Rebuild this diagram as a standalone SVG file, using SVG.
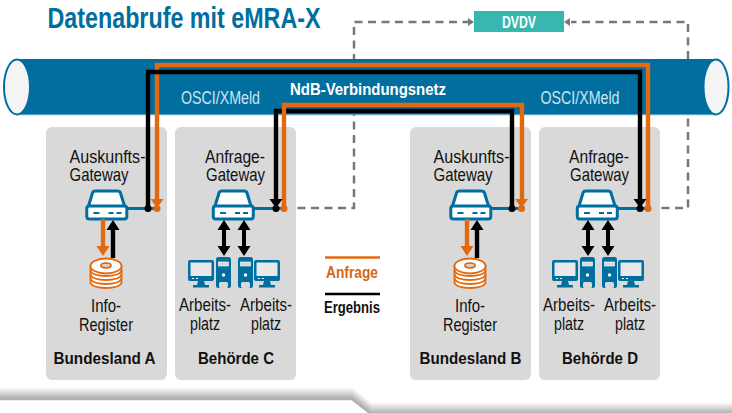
<svg xmlns="http://www.w3.org/2000/svg" width="732" height="413" viewBox="0 0 732 413">
<style>
text{font-family:"Liberation Sans",Arial,sans-serif;text-anchor:middle;fill:#111}
.lbl{font-size:18.5px}
.b{font-size:17px;font-weight:bold}
.box{fill:#d9d9d9}
.blue{fill:#006fa0}
.dash{fill:none;stroke:#777;stroke-width:2.5;stroke-dasharray:8 5.5}
.k{fill:none;stroke:#000;stroke-width:4.4}
.o{fill:none;stroke:#e2690f;stroke-width:4.4}
.thin{fill:none;stroke:#000;stroke-width:4}
.osci{font-size:18px;fill:#cfe3ee}
.f{fill:none;stroke-width:2.3}
</style>
<defs>
<g id="gw">
<path d="M3 16 L7 3 Q7.500 1 10 1 L32 1 Q34.500 1 35 3 L39 16" fill="#fff" stroke="#006fa0" stroke-width="3"/>
<rect x="1.300" y="16" width="40" height="13" rx="2.500" fill="#fff" stroke="#006fa0" stroke-width="3"/>
<path d="M8 23H14M23 23H28M31 23H36" stroke="#006fa0" stroke-width="2"/>
</g>
<g id="disks" fill="#fff" stroke="#e2690f" stroke-width="1.800">
<path d="M-15.500 8V24C-15.500 28 -8 30 0 30S15.500 28 15.500 24V8Z" fill="#fff"/>
<path d="M-15.500 12C-15.500 16 -8 18 0 18S15.500 16 15.500 12M-15.500 16C-15.500 20 -8 22 0 22S15.500 20 15.500 16M-15.500 20C-15.500 24 -8 26 0 26S15.500 24 15.500 20" fill="none"/>
<ellipse cx="0" cy="8" rx="15.500" ry="7.500"/>
<ellipse cx="0" cy="7.500" rx="5" ry="2.300" fill="#d9d9d9"/>
</g>
<g id="mon">
<rect x="0" y="0" width="26" height="21" rx="2" class="blue"/>
<rect x="2.500" y="2.500" width="21" height="13.500" fill="#e8e8e8"/>
<path d="M10 21H16L17 25H21V27.500H5V25H9Z" class="blue"/>
<path d="M4 18.500H6M8 18.500H10" stroke="#fff" stroke-width="1"/>
</g>
<g id="tower">
<rect x="0" y="0" width="15" height="31" rx="2.500" class="blue"/>
<rect x="2.500" y="5" width="10" height="4" fill="#d9d9d9" stroke="#fff" stroke-width=".6"/>
<circle cx="7.500" cy="18" r="1.700" fill="#fff"/>
<rect x="3" y="25" width="9" height="6" rx="1.500" fill="#d9d9d9"/>
</g>
<path id="ah" d="M-6.500 0H6.500L0 9Z"/>
</defs>

<g id="footer">
<path class="f" stroke="#f4f4f4" d="M0 389H352L371 404H732"/>
<path class="f" stroke="#e6e6e6" d="M0 391H352L371 406H732"/>
<path class="f" stroke="#d8d8d8" d="M0 393H352L371 408H732"/>
<path class="f" stroke="#cacaca" d="M0 395H352L371 410H732"/>
<path class="f" stroke="#bcbcbc" d="M0 397H352L371 412H732"/>
<path class="f" stroke="#b0b0b0" d="M0 399H352L371 414H732"/>
</g>

<text x="184" y="28" font-size="29" font-weight="bold" style="fill:#006fa0" textLength="273" lengthAdjust="spacingAndGlyphs">Datenabrufe mit eMRA-X</text>

<g id="dashed-back">
<path class="dash" d="M284 208H354V22H468"/>
<path class="dash" d="M648 208H688V22H571"/>
</g>

<g id="netz">
<rect x="17" y="59" width="699" height="56" class="blue"/>
<rect x="17" y="114" width="699" height="1.200" fill="#5ba3c4"/>
<ellipse cx="17" cy="87" rx="13" ry="27.500" fill="#f4f4f4" stroke="#006fa0" stroke-width="2"/>
<ellipse cx="716" cy="87" rx="12.500" ry="27.500" fill="#f4f4f4" stroke="#006fa0" stroke-width="2"/>
<text x="220.500" y="104" class="osci" textLength="79" lengthAdjust="spacingAndGlyphs">OSCI/XMeld</text>
<text x="580" y="104" class="osci" textLength="79" lengthAdjust="spacingAndGlyphs">OSCI/XMeld</text>
<text x="368" y="95" class="b" style="fill:#fff" textLength="156" lengthAdjust="spacingAndGlyphs">NdB-Verbindungsnetz</text>
</g>

<g id="dvdv">
<rect x="474" y="11" width="90" height="21" fill="#38b6b0"/>
<text x="519" y="27.500" font-size="17" font-weight="bold" style="fill:#fff" textLength="34" lengthAdjust="spacingAndGlyphs">DVDV</text>
</g>

<g id="bundesland-a">
<rect class="box" x="46" y="127" width="121" height="253" rx="6"/>
<text class="lbl" x="107.500" y="163" textLength="76" lengthAdjust="spacingAndGlyphs">Auskunfts-</text>
<text class="lbl" x="99" y="181" textLength="59" lengthAdjust="spacingAndGlyphs">Gateway</text>
<use href="#gw" x="85.500" y="190"/>
<use href="#disks" x="106" y="258"/>
<text class="lbl" x="106" y="312" textLength="30" lengthAdjust="spacingAndGlyphs">Info-</text>
<text class="lbl" x="106" y="331" textLength="54" lengthAdjust="spacingAndGlyphs">Register</text>
<text class="b" x="104.500" y="364" textLength="102" lengthAdjust="spacingAndGlyphs">Bundesland A</text>
</g>
<g id="behoerde-c">
<rect class="box" x="175" y="127" width="121" height="253" rx="6"/>
<text class="lbl" x="235" y="163" textLength="60" lengthAdjust="spacingAndGlyphs">Anfrage-</text>
<text class="lbl" x="235.500" y="181" textLength="59" lengthAdjust="spacingAndGlyphs">Gateway</text>
<use href="#gw" x="212" y="190"/>
<use href="#mon" x="188" y="260"/><use href="#tower" x="216" y="257"/>
<use href="#tower" x="238" y="257"/><use href="#mon" x="254" y="260"/>
<text class="lbl" x="205" y="311" textLength="52" lengthAdjust="spacingAndGlyphs">Arbeits-</text>
<text class="lbl" x="205" y="330" textLength="30" lengthAdjust="spacingAndGlyphs">platz</text>
<text class="lbl" x="266" y="311" textLength="52" lengthAdjust="spacingAndGlyphs">Arbeits-</text>
<text class="lbl" x="266" y="330" textLength="30" lengthAdjust="spacingAndGlyphs">platz</text>
<text class="b" x="236" y="364" textLength="76" lengthAdjust="spacingAndGlyphs">Behörde C</text>
</g>
<g id="bundesland-b">
<rect class="box" x="410" y="127" width="121" height="253" rx="6"/>
<text class="lbl" x="471.500" y="163" textLength="76" lengthAdjust="spacingAndGlyphs">Auskunfts-</text>
<text class="lbl" x="463" y="181" textLength="59" lengthAdjust="spacingAndGlyphs">Gateway</text>
<use href="#gw" x="449.500" y="190"/>
<use href="#disks" x="470" y="258"/>
<text class="lbl" x="470" y="312" textLength="30" lengthAdjust="spacingAndGlyphs">Info-</text>
<text class="lbl" x="470" y="331" textLength="54" lengthAdjust="spacingAndGlyphs">Register</text>
<text class="b" x="470.500" y="364" textLength="102" lengthAdjust="spacingAndGlyphs">Bundesland B</text>
</g>
<g id="behoerde-d">
<rect class="box" x="539" y="127" width="121" height="253" rx="6"/>
<text class="lbl" x="599" y="163" textLength="60" lengthAdjust="spacingAndGlyphs">Anfrage-</text>
<text class="lbl" x="599.500" y="181" textLength="59" lengthAdjust="spacingAndGlyphs">Gateway</text>
<use href="#gw" x="576" y="190"/>
<use href="#mon" x="552" y="260"/><use href="#tower" x="580" y="257"/>
<use href="#tower" x="602" y="257"/><use href="#mon" x="618" y="260"/>
<text class="lbl" x="569" y="311" textLength="52" lengthAdjust="spacingAndGlyphs">Arbeits-</text>
<text class="lbl" x="569" y="330" textLength="30" lengthAdjust="spacingAndGlyphs">platz</text>
<text class="lbl" x="630" y="311" textLength="52" lengthAdjust="spacingAndGlyphs">Arbeits-</text>
<text class="lbl" x="630" y="330" textLength="30" lengthAdjust="spacingAndGlyphs">platz</text>
<text class="b" x="600" y="364" textLength="76" lengthAdjust="spacingAndGlyphs">Behörde D</text>
</g>
<g id="legend">
<path d="M325 257.500H380" stroke="#e2690f" stroke-width="2.500"/>
<text x="352" y="278" font-size="16" font-weight="bold" style="fill:#d9660f" textLength="52" lengthAdjust="spacingAndGlyphs">Anfrage</text>
<path d="M325 294H380" stroke="#000" stroke-width="2.500"/>
<text x="352" y="313" font-size="16" font-weight="bold" textLength="56" lengthAdjust="spacingAndGlyphs">Ergebnis</text>
</g>

<g id="connectors">
<path fill="none" stroke="#006fa0" stroke-width="3" d="M127 208.500H157M254 208.500H284M491 208.500H521M618 208.500H648"/>
<path class="o" d="M157 200V65H648V208"/>
<path class="k" d="M148 208V72H640V200"/>
<path class="k" d="M512 208V111H276V200"/>
<path class="o" d="M284 208V105H522V200"/>
<g fill="#e2690f">
<use href="#ah" x="157" y="199"/><use href="#ah" x="521.500" y="199"/>
<circle cx="157" cy="208.500" r="3.500"/><circle cx="521.500" cy="208.500" r="3.500"/><circle cx="284" cy="208.500" r="3.500"/><circle cx="648" cy="208.500" r="3.500"/>
</g>
<g fill="#000">
<use href="#ah" x="276" y="199"/><use href="#ah" x="640" y="199"/>
<circle cx="148" cy="208.500" r="3.500"/><circle cx="512" cy="208.500" r="3.500"/><circle cx="276" cy="208.500" r="3.500"/><circle cx="640" cy="208.500" r="3.500"/>
</g>
<path d="M468 18L474 22L468 26Z M570 18L564 22L570 26Z" fill="#777"/>
<path class="o" d="M103 219V248"/><path d="M96.500 246H109.500L103 256Z" fill="#e2690f"/>
<path class="o" d="M467 219V248"/><path d="M460.500 246H473.500L467 256Z" fill="#e2690f"/>
<path class="k" d="M113 258V228"/><path d="M106.500 230H119.500L113 220Z" fill="#000"/>
<path class="k" d="M477 258V228"/><path d="M470.500 230H483.500L477 220Z" fill="#000"/>
<path class="thin" d="M224 228V248M244 228V248M588 228V248M608 228V248"/>
<path d="M217.500 230H230.500L224 220ZM217.500 246H230.500L224 256ZM237.500 230H250.500L244 220ZM237.500 246H250.500L244 256ZM581.500 230H594.500L588 220ZM581.500 246H594.500L588 256ZM601.500 230H614.500L608 220ZM601.500 246H614.500L608 256Z" fill="#000"/>
</g>
</svg>
